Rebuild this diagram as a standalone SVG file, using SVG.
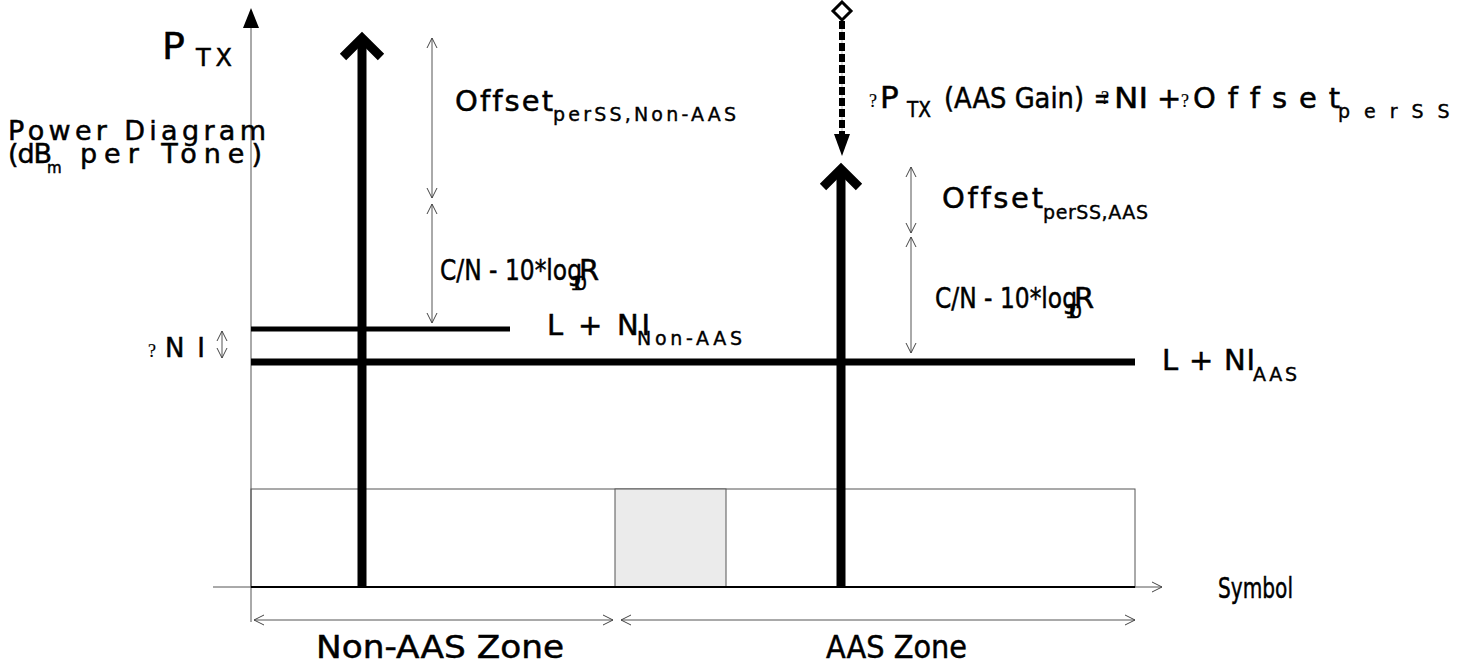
<svg xmlns="http://www.w3.org/2000/svg" width="1467" height="665" viewBox="0 0 1467 665">
<defs>
<marker id="open" viewBox="0 0 12 12" refX="11" refY="6" markerWidth="12" markerHeight="12" markerUnits="userSpaceOnUse" orient="auto-start-reverse">
<path d="M1,1 L11,6 L1,11" fill="none" stroke="#444" stroke-width="1"/>
</marker>
</defs>
<style>
text{font-family:"DejaVu Sans","Liberation Sans",sans-serif;fill:#000;stroke:#000;stroke-width:0.5;font-variant-ligatures:none}
.thin{stroke:#555;stroke-width:1;fill:none}
.dim{stroke:#555;stroke-width:1;fill:none;marker-start:url(#open);marker-end:url(#open)}
.thick{stroke:#000;stroke-width:9;fill:none}
.lbl{font-size:29px}
.sub{font-size:19px;stroke-width:0.4}
.q{font-size:18px;font-family:"Liberation Serif",serif;stroke-width:0.2}
</style>
<rect width="1467" height="665" fill="#fff"/>

<g id="frame">
<rect x="251" y="489" width="884" height="98" fill="#fff" stroke="#555" stroke-width="1"/>
<rect x="615" y="489" width="111" height="98" fill="#ebebeb" stroke="#555" stroke-width="1"/>
</g>

<g id="connectors">
<line class="thin" x1="251" y1="22" x2="251" y2="622"/>
<polygon points="251,8 243,28 259,28" fill="#000"/>
<line class="thin" x1="213" y1="587" x2="1162" y2="587" marker-end="url(#open)"/>
<line x1="251" y1="587" x2="1135" y2="587" stroke="#000" stroke-width="2"/>
<line class="dim" x1="254" y1="620" x2="613" y2="620"/>
<line class="dim" x1="621" y1="620" x2="1135" y2="620"/>
<line x1="251" y1="329" x2="510" y2="329" stroke="#000" stroke-width="5"/>
<line x1="251" y1="362" x2="1135" y2="362" stroke="#000" stroke-width="7"/>
<line class="thick" x1="362" y1="587" x2="362" y2="42"/>
<polyline class="thick" points="343,57 362,38 381,57"/>
<line class="thick" x1="841" y1="587" x2="841" y2="170"/>
<polyline class="thick" points="823,187 841,169 859,187"/>
<line class="dim" x1="432" y1="38" x2="432" y2="198"/>
<line class="dim" x1="432" y1="204" x2="432" y2="323"/>
<line class="dim" x1="911" y1="167" x2="911" y2="233"/>
<line class="dim" x1="911" y1="237" x2="911" y2="353"/>
<line class="dim" x1="222" y1="331" x2="222" y2="358"/>
<line x1="842" y1="18" x2="842" y2="136" stroke="#bbb" stroke-width="1"/>
<line x1="842" y1="21" x2="842" y2="134" stroke="#000" stroke-width="6" stroke-dasharray="8 3"/>
<polygon points="842,2 851,11 842,20 833,11" fill="#fff" stroke="#000" stroke-width="3"/>
<polygon points="834,134 850,134 842,156" fill="#000"/>
</g>

<g id="labels">
<text x="162" y="59" font-size="38">P</text>
<text x="196" y="66" font-size="24" textLength="36" lengthAdjust="spacing">TX</text>
<text x="8" y="140" font-size="27" textLength="258" lengthAdjust="spacing">Power  Diagram</text>
<text x="8" y="163" font-size="27" textLength="44" lengthAdjust="spacing">(dB</text>
<text x="47" y="173" font-size="15" stroke-width="0.3">m</text>
<text x="80" y="163" font-size="27" textLength="182" lengthAdjust="spacing">per  Tone)</text>

<text x="455" y="111" class="lbl" textLength="98" lengthAdjust="spacing">Offset</text>
<text x="553" y="121" class="sub" textLength="183" lengthAdjust="spacing">perSS,Non-AAS</text>
<text x="440" y="280" class="lbl" textLength="142" lengthAdjust="spacingAndGlyphs">C/N  -  10*log</text>
<text x="570" y="290" class="sub" textLength="17" lengthAdjust="spacing">10</text>
<text x="579" y="280" class="lbl">R</text>
<text x="547" y="335" class="lbl" textLength="103" lengthAdjust="spacing">L  +  NI</text>
<text x="637" y="345" class="sub" textLength="105" lengthAdjust="spacing">Non-AAS</text>
<text x="148" y="357" class="q">?</text>
<text x="165" y="357" font-size="26" textLength="40" lengthAdjust="spacing">NI</text>

<text x="869" y="107" class="q">?</text>
<text x="880" y="108" font-size="31">P</text>
<text x="907" y="117" font-size="22" textLength="24" lengthAdjust="spacingAndGlyphs">TX</text>
<text x="944" y="108" class="lbl" textLength="140" lengthAdjust="spacingAndGlyphs">(AAS  Gain)</text>
<text x="1094" y="108" class="lbl" textLength="16" lengthAdjust="spacingAndGlyphs">=</text>
<text x="1101" y="104" class="q">?</text>
<text x="1114" y="108" class="lbl" textLength="34" lengthAdjust="spacingAndGlyphs">NI</text>
<text x="1157" y="108" class="lbl">+</text>
<text x="1181" y="107" class="q">?</text>
<text x="1193" y="108" class="lbl" textLength="147" lengthAdjust="spacing">Offset</text>
<text x="1338" y="118" class="sub" letter-spacing="14">perSS</text>

<text x="942" y="208" class="lbl" textLength="101" lengthAdjust="spacing">Offset</text>
<text x="1043" y="219" class="sub" textLength="105" lengthAdjust="spacing">perSS,AAS</text>
<text x="935" y="308" class="lbl" textLength="142" lengthAdjust="spacingAndGlyphs">C/N  -  10*log</text>
<text x="1065" y="318" class="sub" textLength="17" lengthAdjust="spacing">10</text>
<text x="1074" y="308" class="lbl">R</text>
<text x="1162" y="370" class="lbl" textLength="93" lengthAdjust="spacing">L  +  NI</text>
<text x="1253" y="381" class="sub" textLength="44" lengthAdjust="spacing">AAS</text>

<text x="1218" y="598" font-size="29" textLength="75" lengthAdjust="spacingAndGlyphs">Symbol</text>
<text x="316" y="658" font-size="32" textLength="248" lengthAdjust="spacingAndGlyphs">Non-AAS  Zone</text>
<text x="826" y="658" font-size="32" textLength="141" lengthAdjust="spacingAndGlyphs">AAS  Zone</text>
</g>
</svg>
